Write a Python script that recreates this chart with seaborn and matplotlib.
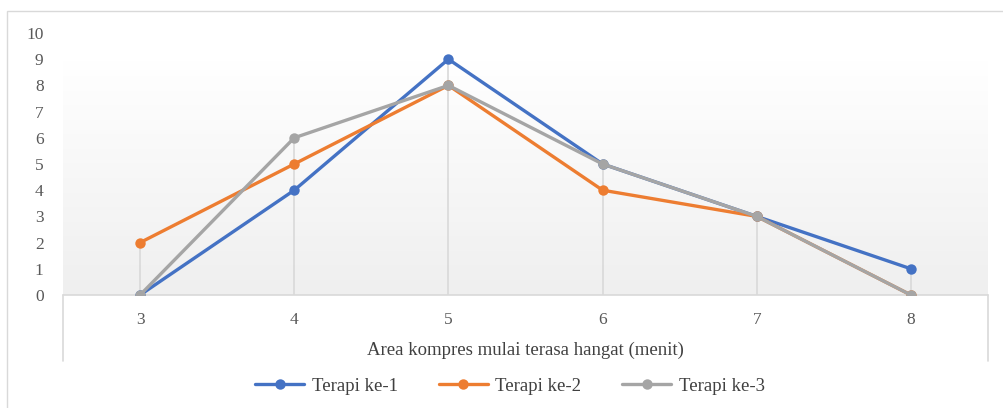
import numpy as np
import pandas as pd
import matplotlib
matplotlib.use("Agg")
import matplotlib.pyplot as plt
import seaborn as sns
from matplotlib.patches import Rectangle
from matplotlib.lines import Line2D
from matplotlib.colors import LinearSegmentedColormap

categories = ["3", "4", "5", "6", "7", "8"]
terapi1 = [0, 4, 9, 5, 3, 1]
terapi2 = [2, 5, 8, 4, 3, 0]
terapi3 = [0, 6, 8, 5, 3, 0]
series_names = ["Terapi ke-1", "Terapi ke-2", "Terapi ke-3"]
yticks = list(range(0, 11))
xlabel = "Area kompres mulai terasa hangat (menit)"
colors = ["#4472C4", "#ED7D31", "#A5A5A5"]

sns.set_theme(style="white")
plt.rcParams["font.family"] = ["Liberation Serif", "DejaVu Serif"]

pos = list(range(len(categories)))
df = pd.DataFrame({
    "pos": pos * 3,
    "val": terapi1 + terapi2 + terapi3,
    "series": sum([[n] * len(categories) for n in series_names], []),
})

fig = plt.figure(figsize=(10.04, 4.08), dpi=100)
W, H = 1004, 408
ax = fig.add_axes([63 / W, 1 - 295 / H, (988 - 63) / W, (295 - 33) / H])

# figure border
fig.patches.append(Rectangle((7 / W, -0.1), 1.2, 1 - 11 / H + 0.1, transform=fig.transFigure,
                             fill=False, edgecolor="#d9d9d9", linewidth=1.0, zorder=0))

# gradient background
grad = np.linspace(0, 1, 256).reshape(-1, 1)
cmap = LinearSegmentedColormap.from_list("g", ["#efefef", "#ffffff"])
ax.imshow(grad, aspect="auto", cmap=cmap, origin="lower",
          extent=(-0.5, len(categories) - 0.5, 0, 8.9), zorder=0)
ax.set_xlim(-0.5, len(categories) - 0.5)
ax.set_ylim(0, 10)

# drop lines
allv = np.array([terapi1, terapi2, terapi3])
ax.vlines(pos, 0, allv.max(axis=0), color="#d9d9d9", linewidth=1.2, zorder=1)

sns.lineplot(data=df, x="pos", y="val", hue="series", palette=colors, marker="o",
             markersize=7.5, markeredgewidth=0, linewidth=2.4, ax=ax, legend=False, zorder=3)

for s in ax.spines.values():
    s.set_visible(False)

# axis lines / category box
ax.plot([-0.5, len(categories) - 0.5], [0, 0], color="#d9d9d9", linewidth=1.2, zorder=2, clip_on=False)
ax.plot([0, 0], [0, -0.25], transform=ax.transAxes, color="#d9d9d9", linewidth=1.2, clip_on=False)
ax.plot([1, 1], [0, -0.25], transform=ax.transAxes, color="#d9d9d9", linewidth=1.2, clip_on=False)

ax.set_xticks(pos)
ax.set_xticklabels(categories)
ax.set_yticks(yticks)
ax.tick_params(axis="both", length=0, labelsize=12.5, colors="#595959")
ax.tick_params(axis="x", pad=12)
ax.tick_params(axis="y", pad=14)
ax.set_xlabel(xlabel, fontsize=13.5, color="#404040", labelpad=10)
ax.set_ylabel("")

handles = [Line2D([0], [0], color=c, linewidth=2.4, marker="o", markersize=7.5, markeredgewidth=0)
           for c in colors]
fig.legend(handles, series_names, loc="center", bbox_to_anchor=(510 / W, 1 - 386 / H), ncol=3,
           frameon=False, fontsize=13.5, handlelength=2.6, columnspacing=2.2, handletextpad=0.4,
           labelcolor="#404040")

fig.savefig("out.png", dpi=100)
